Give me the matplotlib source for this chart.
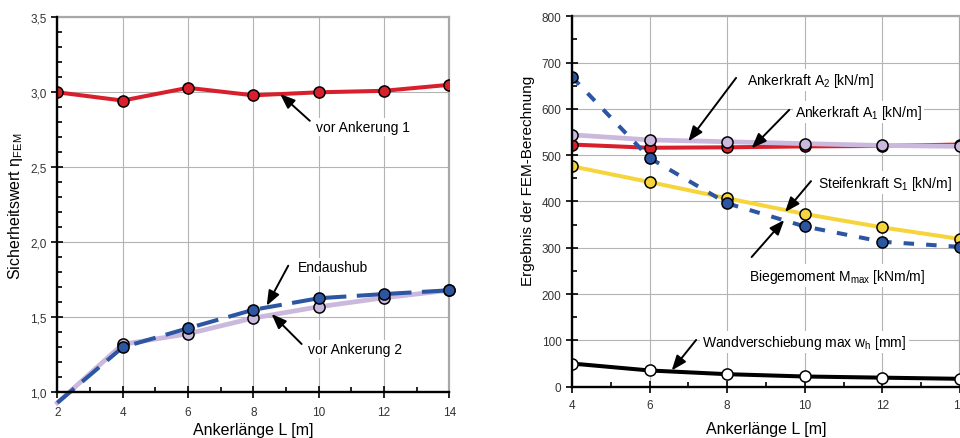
import matplotlib
matplotlib.use("Agg")
import matplotlib.pyplot as plt
from matplotlib.ticker import MultipleLocator, FixedLocator, FixedFormatter

plt.rcParams['font.family'] = ['Liberation Sans', 'DejaVu Sans']
plt.rcParams['mathtext.fontset'] = 'custom'
plt.rcParams['mathtext.rm'] = 'Liberation Sans'
plt.rcParams['mathtext.it'] = 'Liberation Sans:italic'

# ---------------- data: left chart ----------------
L_left = [2, 4, 6, 8, 10, 12, 14]
eta_vor1 = [3.00, 2.945, 3.03, 2.98, 3.00, 3.01, 3.05]
eta_vor2 = [0.93, 1.32, 1.39, 1.495, 1.57, 1.63, 1.68]
eta_end = [0.93, 1.30, 1.427, 1.55, 1.627, 1.655, 1.68]
left_yticks = [1.0, 1.5, 2.0, 2.5, 3.0, 3.5]
left_ylabels = ['1,0', '1,5', '2,0', '2,5', '3,0', '3,5']
left_xticks = [2, 4, 6, 8, 10, 12, 14]

# ---------------- data: right chart ----------------
L_right = [4, 6, 8, 10, 12, 14]
A1 = [523, 516, 517, 519, 520, 523]
A2 = [544, 533, 529, 525, 521, 519]
S1 = [476, 442, 407, 373, 344, 319]
Mmax = [669, 494, 396, 346, 313, 302]
wh = [50, 35, 27, 22, 19.5, 17]
right_yticks = [0, 100, 200, 300, 400, 500, 600, 700, 800]
right_xticks = [4, 6, 8, 10, 12, 14]

RED = '#d7202b'
PURPLE = '#cbb8dd'
BLUE = '#2c55a2'
YELLOW = '#f6d53c'
GRID = '#b4b4b4'
TICKC = '#333333'

fig = plt.figure(figsize=(9.6, 4.39), dpi=100)
axL = fig.add_axes([0.0597, 0.1041, 0.4083, 0.8542])
axR = fig.add_axes([0.5958, 0.1169, 0.4042, 0.8437])


def style_axes(ax):
    ax.set_axisbelow(True)
    ax.grid(True, which='major', color=GRID, lw=0.8)
    for s in ('left', 'bottom'):
        ax.spines[s].set_color('black')
        ax.spines[s].set_linewidth(1.7)
        ax.spines[s].set_zorder(5)
    for s in ('top', 'right'):
        ax.spines[s].set_color('#a8a8a8')
        ax.spines[s].set_linewidth(1.6)
    ax.tick_params(which='major', direction='inout', length=8, width=1.2,
                   color='black', labelsize=8.5, labelcolor=TICKC)
    ax.tick_params(which='minor', direction='in', length=3.5, width=1.2,
                   color='black')
    ax.tick_params(axis='x', which='both', top=False)
    ax.tick_params(axis='y', which='both', right=False)


mk = dict(marker='o', markersize=8, markeredgecolor='black', markeredgewidth=1.1)

# ---------------- left chart ----------------
style_axes(axL)
axL.plot(L_left, eta_vor1, color=RED, lw=2.9, markerfacecolor=RED, zorder=3, **mk)
axL.plot(L_left, eta_vor2, color=PURPLE, lw=3.4, markerfacecolor=PURPLE,
         markevery=list(range(1, len(L_left))), zorder=3, clip_on=False, **mk)
axL.plot(L_left, eta_end, color=BLUE, lw=2.9, dashes=(5.5, 2.6), markerfacecolor=BLUE,
         markevery=list(range(1, len(L_left))), zorder=4, clip_on=False, **mk)
axL.set_xlim(2, 14)
axL.set_ylim(1.0, 3.5)
axL.xaxis.set_major_locator(FixedLocator(left_xticks))
axL.xaxis.set_minor_locator(MultipleLocator(1))
axL.yaxis.set_major_locator(FixedLocator(left_yticks))
axL.yaxis.set_major_formatter(FixedFormatter(left_ylabels))
axL.yaxis.set_minor_locator(MultipleLocator(0.1))
axL.tick_params(axis='x', pad=6)
axL.set_xlabel('Ankerlänge L [m]', fontsize=11.5)
axL.xaxis.set_label_coords(0.5, -0.078)
axL.set_ylabel('Sicherheitswert η$_\\mathregular{FEM}$', fontsize=11.5)
axL.yaxis.set_label_coords(-0.082, 0.50)

arr = dict(arrowstyle='-|>,head_length=0.9,head_width=0.35', color='black', lw=1.4,
           shrinkA=0, shrinkB=0)
box = dict(boxstyle='square,pad=0.15', fc='white', ec='none')
txt = dict(fontsize=10, ha='left', va='center', bbox=box, zorder=6)


def note(ax, text, head, tail, tpos):
    ax.annotate('', xy=head, xytext=tail, arrowprops=arr, zorder=6)
    ax.text(tpos[0], tpos[1], text, **txt)


note(axL, 'vor Ankerung 1', (8.82, 2.989), (9.73, 2.81), (9.92, 2.77))
note(axL, 'Endaushub', (8.41, 1.577), (9.07, 1.844), (9.36, 1.837))
note(axL, 'vor Ankerung 2', (8.56, 1.522), (9.48, 1.322), (9.67, 1.289))

# ---------------- right chart ----------------
style_axes(axR)
axR.plot(L_right, wh, color='black', lw=2.9, markerfacecolor='white', zorder=3, **mk)
axR.plot(L_right, S1, color=YELLOW, lw=2.9, markerfacecolor=YELLOW, zorder=3, **mk)
axR.plot(L_right, A1, color=RED, lw=2.9, markerfacecolor=RED, zorder=3, **mk)
axR.plot(L_right, A2, color=PURPLE, lw=3.4, markerfacecolor=PURPLE, zorder=3, **mk)
axR.plot(L_right, Mmax, color=BLUE, lw=2.9, dashes=(2.6, 3.0), markerfacecolor=BLUE,
         zorder=4, **mk)
axR.set_xlim(4, 14)
axR.set_ylim(0, 800)
axR.xaxis.set_major_locator(FixedLocator(right_xticks))
axR.xaxis.set_minor_locator(MultipleLocator(1))
axR.yaxis.set_major_locator(FixedLocator(right_yticks))
axR.yaxis.set_minor_locator(MultipleLocator(50))
axR.tick_params(axis='x', pad=5)
axR.set_xlabel('Ankerlänge L [m]', fontsize=11.5)
axR.xaxis.set_label_coords(0.5, -0.093)
axR.set_ylabel('Ergebnis der FEM-Berechnung', fontsize=11)
axR.yaxis.set_label_coords(-0.096, 0.558)

note(axR, 'Ankerkraft A$_\\mathregular{2}$ [kN/m]', (7.0, 530), (8.23, 667), (8.51, 662))
note(axR, 'Ankerkraft A$_\\mathregular{1}$ [kN/m]', (8.63, 515), (9.6, 598), (9.75, 594))
note(axR, 'Steifenkraft S$_\\mathregular{1}$ [kN/m]', (9.49, 377), (10.16, 444), (10.33, 441))
note(axR, 'Biegemoment M$_\\mathregular{max}$ [kNm/m]', (9.47, 360), (8.63, 280), (8.55, 240))
note(axR, 'Wandverschiebung max w$_\\mathregular{h}$ [mm]', (6.57, 35), (7.2, 101), (7.36, 97))

fig.savefig('out.png', dpi=100)
